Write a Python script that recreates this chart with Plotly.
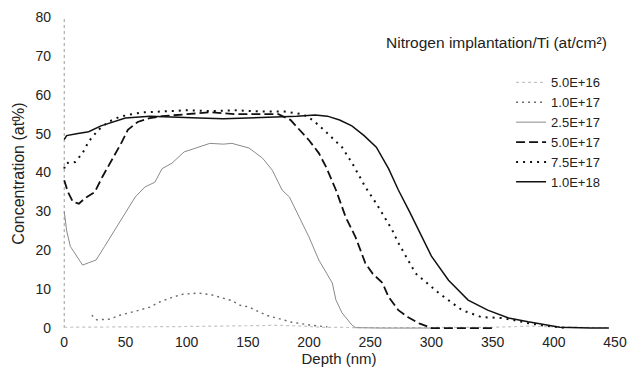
import plotly.graph_objects as go

# ---- data (depth in nm, concentration in at%) ----
d_5e16 = [0, 20, 50, 100, 150, 175, 195, 210, 250, 300, 350, 380, 400, 445]
c_5e16 = [0.2, 0.3, 0.3, 0.4, 0.6, 0.7, 0.5, 0.2, 0.1, 0.1, 0.2, 0.5, 0.3, 0.1]

d_1e17 = [22.5, 26.5, 37, 45.5, 59, 70, 78, 89, 97, 110, 121, 127, 137.5, 143, 151, 165, 186, 200, 215]
c_1e17 = [3.3, 2.1, 2.3, 3.3, 4.4, 5.4, 6.7, 8.0, 8.7, 9.0, 8.5, 8.0, 7.0, 5.9, 5.4, 3.3, 1.5, 0.8, 0.3]

d_25e17 = [0, 2, 5, 9, 15, 20, 26, 33, 41, 50, 58, 66, 74, 80, 88, 98, 110, 119, 130, 137, 151, 162, 170, 178,
           184, 192, 200, 208, 219, 222, 227, 235, 238, 260, 300]
c_25e17 = [30, 25, 21, 19, 16.2, 16.8, 17.5, 21, 25, 29.5, 33.7, 36.3, 37.5, 41, 42.4, 45.3, 46.5, 47.5, 47.3,
           47.5, 46.3, 43.7, 40.6, 35.5, 33.7, 28.5, 23.4, 17.5, 11.6, 7.2, 3.9, 0.8, 0.1, 0, 0]

d_5e17 = [0, 3, 7, 12, 17, 25, 31, 39, 47, 52, 60, 70, 80, 100, 120, 140, 160, 175, 185, 195, 200, 208, 214,
          222, 230, 238, 246, 252, 260, 265, 273, 281, 290, 300, 350]
c_5e17 = [38, 35, 32.5, 32, 33.4, 35, 38.8, 43.2, 47.8, 51, 53, 54, 54.5, 55, 55.5, 55, 55, 55, 53.5, 50,
          48.3, 45, 41.4, 35.5, 28.5, 23.4, 16.7, 14, 11.6, 8, 4.6, 2.8, 1.2, 0, 0]

d_75e17 = [0, 1, 9, 15, 20, 28, 36, 45, 55, 65, 80, 100, 120, 140, 160, 180, 195, 203, 212, 227, 236, 246,
           255, 263, 268, 273, 287, 306, 325, 341, 357, 368, 380, 395, 410]
c_75e17 = [41, 42.4, 42.7, 45, 48, 51, 53, 54.3, 55, 55.5, 55.7, 56, 55.8, 56, 55.7, 55.7, 55, 53.5, 51,
           46.5, 42, 36.3, 32, 27.8, 25.2, 21.9, 14.1, 9, 4.6, 2.8, 2.6, 2, 1.2, 0.5, 0]

d_1e18 = [0, 2, 10, 20, 30, 40, 50, 70, 90, 110, 130, 150, 170, 190, 205, 215, 225, 235, 245, 255, 265, 273,
          282, 290, 300, 314, 330, 346, 363, 379, 395, 405, 430, 445]
c_1e18 = [48.5, 49.5, 50, 50.5, 52, 53, 54, 54.5, 54.2, 54, 53.8, 54, 54.2, 54.5, 54.8, 54.5, 53.5, 52, 49.5,
          46.5, 41, 35.5, 30, 25, 18.5, 12.3, 7.2, 4.6, 2.6, 1.6, 0.8, 0.2, 0, 0]

labels = ["5.0E+16", "1.0E+17", "2.5E+17", "5.0E+17", "7.5E+17", "1.0E+18"]
x_ticks = [0, 50, 100, 150, 200, 250, 300, 350, 400, 450]
y_ticks = [0, 10, 20, 30, 40, 50, 60, 70, 80]

series = [
    (d_5e16, c_5e16, dict(color="#c4c4c4", width=1.2, dash="dot")),
    (d_1e17, c_1e17, dict(color="#6a6a6a", width=1.4, dash="2px,4px")),
    (d_25e17, c_25e17, dict(color="#8a8a8a", width=1)),
    (d_5e17, c_5e17, dict(color="#111111", width=1.8, dash="9px,4px")),
    (d_75e17, c_75e17, dict(color="#111111", width=2, dash="2px,5px")),
    (d_1e18, c_1e18, dict(color="#111111", width=1.5)),
]

FONT = "Liberation Sans, Arial, sans-serif"
TXT = "#222222"

fig = go.Figure()
for (xs, ys, ln), name in zip(series, labels):
    fig.add_trace(go.Scatter(x=xs, y=ys, mode="lines", name=name, line=ln))

# dotted y axis line
fig.add_shape(type="line", xref="x", yref="y", x0=0, x1=0, y0=0, y1=80,
              line=dict(color="#9a9a9a", width=1, dash="dot"), layer="below")

fig.add_annotation(text="Nitrogen implantation/Ti (at/cm²)", xref="paper", yref="paper",
                   x=1.0, y=0.917, xanchor="right", yanchor="middle", showarrow=False, xshift=-6,
                   font=dict(family=FONT, size=15.5, color=TXT))

fig.update_layout(
    width=627, height=376,
    margin=dict(l=63, r=12, t=17, b=46, autoexpand=False),
    paper_bgcolor="white", plot_bgcolor="white",
    font=dict(family=FONT, size=14, color=TXT),
    showlegend=True,
    legend=dict(x=0.982, xanchor="right", y=0.839, yanchor="top", bgcolor="rgba(0,0,0,0)",
                font=dict(family=FONT, size=13, color=TXT), tracegroupgap=0, itemwidth=30),
    xaxis=dict(range=[-1, 450], tickvals=x_ticks, showgrid=False, zeroline=False, showline=False,
               ticks="", ticklabelstandoff=2, automargin=False, ticklabeloverflow="allow",
               tickfont=dict(size=14),
               title=dict(text="Depth (nm)", standoff=4, font=dict(family=FONT, size=15, color=TXT))),
    yaxis=dict(range=[-0.5, 80], tickvals=y_ticks, showgrid=False, zeroline=False, showline=False,
               ticks="", ticklabelstandoff=11, automargin=False, ticklabeloverflow="allow",
               tickfont=dict(size=14),
               title=dict(text="Concentration (at%)", standoff=6, font=dict(family=FONT, size=16, color=TXT))),
)

fig.write_html("out.html", config={"displayModeBar": False},
               post_script="document.body.style.margin='0';document.body.style.overflow='hidden';")
